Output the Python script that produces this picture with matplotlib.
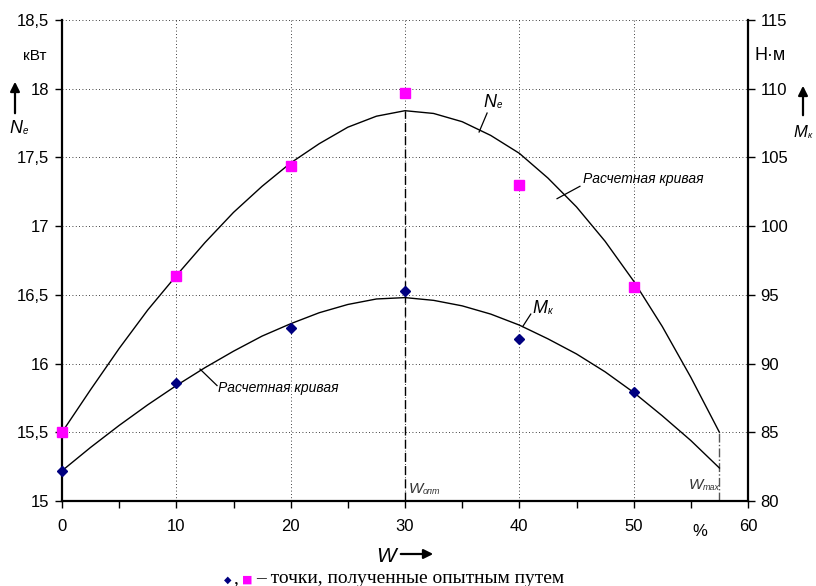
import numpy as np
from matplotlib import pyplot as plt
from matplotlib.ticker import FixedLocator, FuncFormatter

plt.rcParams['font.family'] = ['Liberation Sans', 'DejaVu Sans']

### опытные точки
w_exp = [0, 10, 20, 30, 40, 50]
ne_exp = [15.5, 16.64, 17.44, 17.97, 17.30, 16.56]      # кВт
mk_exp = [82.2, 88.6, 92.6, 95.3, 91.8, 87.9]           # Н*м

### расчетные кривые
w_calc = [0, 2.5, 5, 7.5, 10, 12.5, 15, 17.5, 20, 22.5, 25, 27.5, 30,
          32.5, 35, 37.5, 40, 42.5, 45, 47.5, 50, 52.5, 55, 57.5]
ne_calc = [15.50, 15.81, 16.11, 16.39, 16.64, 16.88, 17.10, 17.29, 17.46, 17.60, 17.72, 17.80, 17.84,
           17.82, 17.76, 17.66, 17.53, 17.35, 17.14, 16.89, 16.60, 16.27, 15.90, 15.50]
mk_calc = [82.2, 83.9, 85.5, 87.0, 88.4, 89.7, 90.9, 92.0, 92.9, 93.7, 94.3, 94.7, 94.8,
           94.6, 94.2, 93.6, 92.8, 91.8, 90.7, 89.4, 87.9, 86.2, 84.4, 82.4]

w_opt = 30
w_max = 57.5

x_ticks = [0, 10, 20, 30, 40, 50, 60]
x_minor = [5, 15, 25, 35, 45, 55]
y_ticks = [15, 15.5, 16, 16.5, 17, 17.5, 18, 18.5]
y2_ticks = [80, 85, 90, 95, 100, 105, 110, 115]

W, H = 816, 586
fig = plt.figure(figsize=(W / 100, H / 100), dpi=100)
ax = fig.add_axes([62 / W, 1 - 501 / H, (748 - 62) / W, (501 - 20) / H])
ax2 = ax.twinx()


def px(x, y):
	# пиксели картинки (от верхнего левого угла) -> доли фигуры
	return (x / W, 1 - y / H)


def comma(v, pos):
	return ('%g' % v).replace('.', ',')


def label_sub(x, y, main, sub, size, subsize, dx, color='black'):
	fig.text(*px(x, y), main, fontsize=size, style='italic', va='baseline', color=color)
	fig.text(*px(x + dx, y + 1), sub, fontsize=subsize, style='italic', va='baseline', color=color)


ax.set_xlim(0, 60)
ax.set_ylim(15, 18.5)
ax2.set_ylim(80, 115)
ax.xaxis.set_major_locator(FixedLocator(x_ticks))
ax.xaxis.set_minor_locator(FixedLocator(x_minor))
ax.yaxis.set_major_locator(FixedLocator(y_ticks))
ax2.yaxis.set_major_locator(FixedLocator(y2_ticks))
ax.yaxis.set_major_formatter(FuncFormatter(comma))

ax.grid(True, which='major', color='black', linestyle=(0, (1, 3)), linewidth=0.6)

for a in (ax, ax2):
	for s in a.spines.values():
		s.set_visible(False)
ax.spines['left'].set_visible(True)
ax.spines['bottom'].set_visible(True)
ax2.spines['right'].set_visible(True)
for s in (ax.spines['left'], ax.spines['bottom'], ax2.spines['right']):
	s.set_linewidth(1.6)

ax.tick_params(axis='both', which='major', direction='out', length=5, width=1, labelsize=12, pad=4)
ax.tick_params(axis='x', which='major', pad=8)
ax.tick_params(axis='x', which='minor', direction='out', length=5, width=1)
ax2.tick_params(axis='y', direction='out', length=5, width=1, labelsize=12, pad=4)

# кривые
ax.plot(w_calc, ne_calc, color='black', linewidth=1)
ax2.plot(w_calc, mk_calc, color='black', linewidth=1)

# точки
ax.plot(w_exp, ne_exp, linestyle='none', marker='s', markersize=6.5,
        color='#FF00FF', markeredgecolor='#FF00FF', clip_on=False, zorder=5)
ax2.plot(w_exp, mk_exp, linestyle='none', marker='D', markersize=5,
         color='#000080', markeredgecolor='#000080', clip_on=False, zorder=5)

# вертикали W_опт и W_max
ax.plot([w_opt, w_opt], [15, max(ne_calc)], color='black', linewidth=1, linestyle=(0, (6.5, 3)))
ax.plot([w_max, w_max], [15, ne_calc[-1]], color='#555555', linewidth=1, linestyle='-.')

label_sub(409, 493, 'W', 'опт', 11, 6.5, 14, color='#333333')
label_sub(689, 489, 'W', 'max', 11, 6.5, 14, color='#333333')

# подписи кривых
ax.plot([36.48, 37.18], [17.685, 17.823], color='black', linewidth=0.9)
label_sub(483, 107, 'N', 'e', 13, 7, 14)
ax.plot([43.3, 45.3], [17.20, 17.29], color='black', linewidth=0.9)
ax.text(45.6, 17.34, 'Расчетная кривая', fontsize=10, style='italic', va='center')

ax.plot([40.3, 41.0], [16.27, 16.36], color='black', linewidth=0.9)
label_sub(532, 313, 'M', 'к', 13, 7, 16)
ax.plot([12.07, 13.56], [15.96, 15.84], color='black', linewidth=0.9)
ax.text(13.65, 15.82, 'Расчетная кривая', fontsize=10, style='italic', va='center')

# подписи осей
fig.text(*px(23, 60), 'кВт', fontsize=11, va='baseline')
fig.text(*px(755, 60), 'Н·м', fontsize=13, va='baseline')
label_sub(9, 133, 'N', 'e', 13, 7, 14)
label_sub(793, 137, 'M', 'к', 12, 6.5, 15)
ax.annotate('', xy=px(15, 79), xycoords='figure fraction', xytext=px(15, 116),
            arrowprops=dict(arrowstyle='-|>', color='black', lw=1.6, mutation_scale=14))
ax.annotate('', xy=px(803, 83), xycoords='figure fraction', xytext=px(803, 118),
            arrowprops=dict(arrowstyle='-|>', color='black', lw=1.6, mutation_scale=14))

fig.text(*px(700, 531), '%', fontsize=12, ha='center', va='center')
fig.text(*px(376, 562), 'W', fontsize=15, style='italic', va='baseline')
ax.annotate('', xy=px(436, 554), xycoords='figure fraction', xytext=px(398, 554),
            arrowprops=dict(arrowstyle='-|>', color='black', lw=1.6, mutation_scale=14))

# легенда внизу
serif = ['Liberation Serif', 'DejaVu Serif']
fig.text(*px(224, 583), '◆', fontsize=7, color='#000080', family=['DejaVu Sans'])
fig.text(*px(233, 583), ',', fontsize=14, family=serif)
fig.text(*px(242, 583), '■', fontsize=8, color='#FF00FF', family=['DejaVu Sans'])
fig.text(*px(256, 583), '– точки, полученные опытным путем', fontsize=14, family=serif)

fig.savefig('out.png', dpi=100)
